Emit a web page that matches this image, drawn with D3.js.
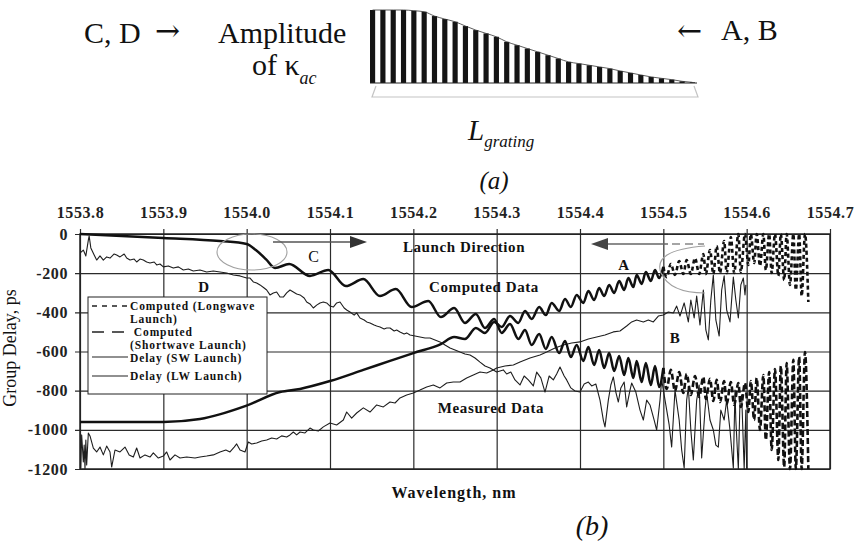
<!DOCTYPE html>
<html><head><meta charset="utf-8">
<script src="https://cdn.jsdelivr.net/npm/d3@7"></script>
<style>
body{margin:0;background:#fff}
svg{display:block}
text{font-family:"Liberation Serif","Times New Roman",serif;fill:#111}
</style>
</head><body>
<svg id="chart" width="858" height="545"></svg>
<script>
// ---------- data ----------
const xTicks = [1553.8,1553.9,1554.0,1554.1,1554.2,1554.3,1554.4,1554.5,1554.6,1554.7];
const yTicks = [0,-200,-400,-600,-800,-1000,-1200];

// relative amplitude of kappa_ac along the grating (panel a)
const kappaAmplitude = [1,1,1,1,0.99,0.976,0.917,0.876,0.839,0.78,0.725,0.679,0.633,0.564,0.518,0.472,
  0.427,0.381,0.335,0.289,0.266,0.243,0.22,0.197,0.165,0.138,0.11,0.083,0.064,0.046,0.023,0.009];

// [wavelength nm, group delay ps]
const computedSW = [[1553.800,0],[1553.900,-20],[1553.968,-36],[1554.000,-51],[1554.011,-82],[1554.023,-128],[1554.034,-174],[1554.051,-153],[1554.076,-214],[1554.098,-184],[1554.119,-266],[1554.140,-230],[1554.160,-317],[1554.179,-281],[1554.198,-373],[1554.218,-342],[1554.233,-424],[1554.249,-378],[1554.262,-454],[1554.275,-408],[1554.286,-480],[1554.297,-434],[1554.306,-505],[1554.316,-460],[1554.326,-536],[1554.334,-490],[1554.342,-567],[1554.351,-511],[1554.359,-587],[1554.366,-526],[1554.375,-608],[1554.382,-546],[1554.389,-628],[1554.396,-567],[1554.404,-648],[1554.410,-577],[1554.417,-669],[1554.423,-592],[1554.429,-684],[1554.435,-608],[1554.441,-700],[1554.447,-623],[1554.453,-720],[1554.458,-633],[1554.464,-735],[1554.468,-648],[1554.474,-756],[1554.479,-659],[1554.485,-771],[1554.490,-674],[1554.495,-781],[1554.500,-684],[1554.504,-791],[1554.509,-694],[1554.514,-802],[1554.519,-705],[1554.524,-812],[1554.528,-715],[1554.533,-822],[1554.538,-725],[1554.543,-832],[1554.548,-730],[1554.551,-842],[1554.556,-740],[1554.560,-853],[1554.564,-745],[1554.568,-858],[1554.573,-751],[1554.576,-868],[1554.581,-756],[1554.585,-873],[1554.590,-761],[1554.593,-883],[1554.598,-761],[1554.602,-909],[1554.605,-751],[1554.609,-950],[1554.612,-735],[1554.616,-1001],[1554.620,-720],[1554.623,-1052],[1554.627,-705],[1554.630,-1103],[1554.634,-689],[1554.638,-1154],[1554.641,-674],[1554.645,-1190],[1554.648,-659],[1554.652,-1200],[1554.656,-643],[1554.659,-1200],[1554.663,-628],[1554.666,-1200],[1554.670,-603],[1554.674,-1200]];

const computedLW = [[1553.800,-960],[1553.900,-960],[1553.944,-945],[1553.999,-878],[1554.040,-807],[1554.064,-791],[1554.100,-751],[1554.140,-694],[1554.172,-648],[1554.200,-608],[1554.233,-562],[1554.249,-526],[1554.262,-536],[1554.275,-480],[1554.286,-505],[1554.297,-449],[1554.306,-475],[1554.316,-419],[1554.326,-454],[1554.334,-393],[1554.342,-434],[1554.351,-373],[1554.359,-414],[1554.366,-352],[1554.375,-393],[1554.382,-332],[1554.389,-373],[1554.396,-311],[1554.404,-352],[1554.410,-291],[1554.417,-337],[1554.423,-276],[1554.429,-317],[1554.435,-260],[1554.441,-301],[1554.447,-240],[1554.453,-286],[1554.458,-225],[1554.464,-271],[1554.468,-209],[1554.474,-255],[1554.479,-194],[1554.485,-240],[1554.490,-184],[1554.495,-225],[1554.500,-168],[1554.504,-220],[1554.509,-153],[1554.514,-209],[1554.519,-138],[1554.524,-204],[1554.528,-133],[1554.533,-204],[1554.538,-123],[1554.543,-204],[1554.548,-102],[1554.551,-204],[1554.556,-82],[1554.560,-204],[1554.564,-61],[1554.568,-199],[1554.573,-36],[1554.576,-199],[1554.581,-15],[1554.585,-199],[1554.590,0],[1554.593,-194],[1554.598,0],[1554.602,-158],[1554.605,0],[1554.609,-148],[1554.612,0],[1554.616,-163],[1554.620,0],[1554.623,-184],[1554.627,0],[1554.630,-199],[1554.634,0],[1554.638,-214],[1554.641,0],[1554.645,-235],[1554.648,0],[1554.652,-260],[1554.656,0],[1554.659,-286],[1554.663,0],[1554.666,-317],[1554.670,0],[1554.674,-347]];

const measuredSW = [[1553.800,-97],[1553.804,-82],[1553.807,-112],[1553.810,-31],[1553.811,-10],[1553.813,-71],[1553.817,-107],[1553.820,-133],[1553.824,-112],[1553.828,-133],[1553.832,-117],[1553.836,-123],[1553.841,-102],[1553.844,-107],[1553.848,-117],[1553.853,-102],[1553.856,-123],[1553.860,-133],[1553.865,-128],[1553.868,-143],[1553.872,-128],[1553.876,-133],[1553.880,-143],[1553.884,-148],[1553.889,-143],[1553.892,-158],[1553.896,-153],[1553.900,-168],[1553.906,-163],[1553.912,-174],[1553.918,-168],[1553.924,-184],[1553.930,-179],[1553.936,-189],[1553.944,-184],[1553.952,-194],[1553.960,-189],[1553.968,-194],[1553.976,-199],[1553.984,-209],[1553.992,-214],[1554.000,-225],[1554.004,-225],[1554.008,-245],[1554.012,-250],[1554.016,-260],[1554.021,-276],[1554.024,-286],[1554.028,-311],[1554.032,-301],[1554.036,-296],[1554.040,-322],[1554.044,-322],[1554.048,-301],[1554.052,-286],[1554.056,-296],[1554.060,-306],[1554.064,-311],[1554.069,-327],[1554.072,-347],[1554.076,-357],[1554.080,-378],[1554.084,-363],[1554.088,-352],[1554.092,-347],[1554.096,-352],[1554.100,-368],[1554.104,-373],[1554.108,-352],[1554.112,-347],[1554.117,-378],[1554.120,-388],[1554.124,-398],[1554.129,-414],[1554.132,-403],[1554.136,-429],[1554.141,-439],[1554.144,-449],[1554.148,-454],[1554.153,-465],[1554.156,-470],[1554.160,-475],[1554.165,-485],[1554.168,-480],[1554.172,-480],[1554.177,-495],[1554.180,-490],[1554.184,-500],[1554.189,-511],[1554.192,-505],[1554.196,-516],[1554.202,-521],[1554.208,-526],[1554.214,-531],[1554.220,-531],[1554.226,-541],[1554.232,-551],[1554.238,-567],[1554.244,-582],[1554.250,-592],[1554.256,-603],[1554.262,-613],[1554.268,-618],[1554.274,-633],[1554.280,-654],[1554.286,-674],[1554.292,-684],[1554.300,-705],[1554.308,-694],[1554.312,-715],[1554.317,-705],[1554.322,-745],[1554.328,-771],[1554.333,-725],[1554.338,-745],[1554.344,-776],[1554.348,-705],[1554.353,-735],[1554.358,-807],[1554.363,-725],[1554.368,-745],[1554.372,-715],[1554.376,-679],[1554.381,-725],[1554.384,-745],[1554.389,-786],[1554.394,-802],[1554.400,-807],[1554.405,-766],[1554.410,-756],[1554.414,-776],[1554.419,-766],[1554.424,-848],[1554.428,-950],[1554.430,-985],[1554.434,-848],[1554.437,-771],[1554.440,-730],[1554.443,-807],[1554.446,-858],[1554.449,-786],[1554.453,-756],[1554.456,-883],[1554.460,-797],[1554.462,-761],[1554.467,-807],[1554.472,-899],[1554.476,-950],[1554.480,-848],[1554.484,-873],[1554.489,-950],[1554.492,-1001],[1554.496,-848],[1554.498,-745],[1554.503,-873],[1554.507,-975],[1554.510,-1088],[1554.514,-797],[1554.519,-950],[1554.522,-1103],[1554.525,-1195],[1554.528,-848],[1554.530,-781],[1554.533,-1001],[1554.536,-1154],[1554.540,-848],[1554.543,-771],[1554.546,-1144],[1554.550,-899],[1554.552,-812],[1554.556,-950],[1554.560,-1001],[1554.563,-1078],[1554.566,-1088],[1554.569,-899],[1554.573,-950],[1554.576,-848],[1554.580,-1001],[1554.584,-1195],[1554.586,-797],[1554.587,-950],[1554.590,-1200],[1554.592,-848],[1554.594,-822],[1554.597,-1200],[1554.599,-899],[1554.600,-1200]];

const measuredLW = [[1553.800,-1052],[1553.801,-1195],[1553.802,-1026],[1553.804,-1164],[1553.805,-1078],[1553.806,-1200],[1553.807,-1052],[1553.808,-1179],[1553.810,-1016],[1553.812,-1031],[1553.816,-1093],[1553.820,-1113],[1553.824,-1088],[1553.828,-1128],[1553.832,-1083],[1553.836,-1113],[1553.838,-1190],[1553.842,-1103],[1553.848,-1113],[1553.854,-1088],[1553.859,-1128],[1553.864,-1139],[1553.868,-1093],[1553.872,-1144],[1553.878,-1128],[1553.884,-1139],[1553.888,-1118],[1553.894,-1144],[1553.900,-1134],[1553.904,-1113],[1553.908,-1154],[1553.914,-1128],[1553.920,-1144],[1553.928,-1139],[1553.938,-1144],[1553.944,-1139],[1553.952,-1134],[1553.960,-1128],[1553.968,-1113],[1553.975,-1103],[1553.980,-1113],[1553.985,-1088],[1553.988,-1072],[1553.992,-1103],[1553.998,-1113],[1554.002,-1062],[1554.006,-1072],[1554.012,-1067],[1554.018,-1057],[1554.024,-1052],[1554.030,-1042],[1554.036,-1047],[1554.042,-1031],[1554.048,-1037],[1554.052,-1026],[1554.056,-1011],[1554.060,-1026],[1554.064,-1011],[1554.070,-1016],[1554.076,-991],[1554.080,-1001],[1554.086,-1006],[1554.092,-985],[1554.100,-965],[1554.108,-975],[1554.116,-950],[1554.120,-909],[1554.126,-940],[1554.132,-914],[1554.140,-888],[1554.148,-909],[1554.156,-873],[1554.164,-883],[1554.172,-858],[1554.178,-863],[1554.184,-837],[1554.192,-822],[1554.200,-812],[1554.208,-797],[1554.216,-781],[1554.224,-771],[1554.232,-786],[1554.240,-761],[1554.248,-756],[1554.256,-756],[1554.264,-735],[1554.272,-720],[1554.280,-705],[1554.288,-710],[1554.296,-694],[1554.300,-684],[1554.310,-674],[1554.320,-669],[1554.328,-654],[1554.340,-633],[1554.352,-618],[1554.360,-603],[1554.370,-582],[1554.380,-567],[1554.390,-557],[1554.400,-551],[1554.410,-536],[1554.420,-526],[1554.430,-516],[1554.440,-500],[1554.448,-495],[1554.456,-470],[1554.462,-449],[1554.468,-439],[1554.476,-449],[1554.482,-439],[1554.488,-449],[1554.494,-419],[1554.500,-414],[1554.506,-398],[1554.512,-403],[1554.516,-368],[1554.520,-419],[1554.525,-352],[1554.530,-449],[1554.533,-337],[1554.537,-429],[1554.540,-317],[1554.544,-465],[1554.548,-286],[1554.551,-490],[1554.554,-541],[1554.557,-337],[1554.560,-209],[1554.563,-439],[1554.567,-521],[1554.570,-286],[1554.573,-214],[1554.576,-388],[1554.580,-449],[1554.584,-220],[1554.587,-337],[1554.590,-429],[1554.593,-260],[1554.596,-225],[1554.598,-311],[1554.599,-260]];

const legendLabels = [["Computed (Longwave","Launch)"],[" Computed","(Shortwave Launch)"],["Delay (SW Launch)"],["Delay (LW Launch)"]];

// ---------- drawing ----------
const svg = d3.select("#chart");
svg.append("rect").attr("width",858).attr("height",545).attr("fill","#fff");

// ===== panel (a) =====
const idx = d3.range(kappaAmplitude.length);
const xb = d3.scaleBand().domain(idx).range([370,695]).paddingInner(0.5).paddingOuter(0);
const yb = d3.scaleLinear().domain([0,1]).range([83,10]);
svg.append("g").selectAll("rect").data(kappaAmplitude).join("rect")
  .attr("x",(d,i)=>xb(i)).attr("width",xb.bandwidth())
  .attr("y",d=>yb(d)).attr("height",d=>yb(0)-yb(d)).attr("fill","#141414");
svg.append("path")
  .datum(kappaAmplitude)
  .attr("d",d3.line().x((d,i)=>xb(i)+xb.bandwidth()/2).y(d=>yb(d)).curve(d3.curveMonotoneX))
  .attr("fill","none").attr("stroke","#333").attr("stroke-width",0.8);
svg.append("line").attr("x1",370).attr("x2",697).attr("y1",yb(0)).attr("y2",yb(0)).attr("stroke","#222").attr("stroke-width",1);
// L_grating bracket
svg.append("path").attr("d","M376,86 L372,97 L698,97 L694,86").attr("fill","none").attr("stroke","#c4c4c4").attr("stroke-width",1.2);

svg.append("text").attr("x",84).attr("y",43).attr("font-size",30).text("C, D");
svg.append("text").attr("x",155).attr("y",41).attr("font-size",30).style("font-family","'DejaVu Serif', serif").style("font-weight","200").text("→");
svg.append("text").attr("x",218).attr("y",43).attr("font-size",30).text("Amplitude");
const ok = svg.append("text").attr("x",252).attr("y",75).attr("font-size",30);
ok.append("tspan").text("of κ");
ok.append("tspan").attr("font-size",18).attr("font-style","italic").attr("dy",9).text("ac");
svg.append("text").attr("x",677).attr("y",41).attr("font-size",30).style("font-family","'DejaVu Serif', serif").text("←");
svg.append("text").attr("x",721).attr("y",40).attr("font-size",30).text("A, B");
const lg = svg.append("text").attr("x",468).attr("y",140).attr("font-size",29).attr("font-style","italic");
lg.append("tspan").text("L");
lg.append("tspan").attr("font-size",17).attr("dy",7).text("grating");
svg.append("text").attr("x",494).attr("y",189).attr("font-size",25).attr("font-style","italic").attr("text-anchor","middle").text("(a)");

// ===== panel (b) =====
const x = d3.scaleLinear().domain([1553.8,1554.7]).range([80,830]);
const y = d3.scaleLinear().domain([0,-1200]).range([234,469]);

svg.append("g").attr("transform","translate(0,469)")
  .call(d3.axisBottom(x).tickValues(xTicks).tickSize(-240).tickFormat(""))
  .call(g=>g.select(".domain").remove())
  .call(g=>g.selectAll("line").attr("stroke","#2b2b2b").attr("stroke-width",1.2));
svg.append("g").attr("transform","translate(830,0)")
  .call(d3.axisRight(y).tickValues(yTicks).tickSize(-755).tickFormat(""))
  .call(g=>g.select(".domain").remove())
  .call(g=>g.selectAll("line").attr("stroke","#2b2b2b").attr("stroke-width",1.2));
svg.append("rect").attr("x",80).attr("y",234).attr("width",750).attr("height",235)
  .attr("fill","none").attr("stroke","#222").attr("stroke-width",1.5);

const topAxis = svg.append("g").attr("transform","translate(0,234)")
  .call(d3.axisTop(x).tickValues(xTicks).tickSize(0).tickPadding(16).tickFormat(d3.format(".1f")));
topAxis.select(".domain").remove();
topAxis.selectAll("text").attr("font-size",16).attr("font-weight","bold").style("fill","#222").attr("letter-spacing",0.6);

const leftAxis = svg.append("g").attr("transform","translate(80,0)")
  .call(d3.axisLeft(y).tickValues(yTicks).tickSize(0).tickPadding(12).tickFormat(d=>String(d)));
leftAxis.select(".domain").remove();
leftAxis.selectAll("text").attr("font-size",16).attr("font-weight","bold").style("fill","#222").attr("letter-spacing",0.6);

svg.append("text").attr("transform","translate(16,348) rotate(-90)").attr("text-anchor","middle")
  .attr("font-size",18).text("Group Delay, ps");
svg.append("text").attr("x",454).attr("y",498).attr("text-anchor","middle").attr("font-size",16)
  .attr("font-weight","bold").attr("letter-spacing",1).text("Wavelength, nm");
svg.append("text").attr("x",592).attr("y",535).attr("text-anchor","middle").attr("font-size",28)
  .attr("font-style","italic").text("(b)");

svg.append("clipPath").attr("id","plotclip").append("rect").attr("x",80).attr("y",231).attr("width",750).attr("height",240);
const plot = svg.append("g").attr("clip-path","url(#plotclip)");

const lineLin = d3.line().x(d=>x(d[0])).y(d=>y(d[1]));
const lineSmooth = d3.line().x(d=>x(d[0])).y(d=>y(d[1])).curve(d3.curveMonotoneX);

plot.append("path").datum(measuredSW).attr("d",lineLin).attr("fill","none").attr("stroke","#1e1e1e").attr("stroke-width",1.1).attr("stroke-linejoin","round");
plot.append("path").datum(measuredLW).attr("d",lineLin).attr("fill","none").attr("stroke","#1e1e1e").attr("stroke-width",1.1).attr("stroke-linejoin","round");

function splitAt(arr, wl){
  const i = arr.findIndex(d=>d[0]>=wl);
  return [arr.slice(0,i+1), arr.slice(i)];
}
const [cSolid,cDash] = splitAt(computedSW,1554.50);
const [aSolid,aDash] = splitAt(computedLW,1554.50);
plot.append("path").datum(cSolid).attr("d",lineSmooth).attr("fill","none").attr("stroke","#111").attr("stroke-width",2.5);
plot.append("path").datum(cDash).attr("d",lineSmooth).attr("fill","none").attr("stroke","#111").attr("stroke-width",2.6).attr("stroke-dasharray","6,3");
plot.append("path").datum(aSolid).attr("d",lineSmooth).attr("fill","none").attr("stroke","#111").attr("stroke-width",2.5);
plot.append("path").datum(aDash).attr("d",lineSmooth).attr("fill","none").attr("stroke","#111").attr("stroke-width",2.6).attr("stroke-dasharray","4,3");

// annotations
const ann = svg.append("g").attr("fill","none").attr("stroke","#a0a0a0").attr("stroke-width",1.1);
ann.append("ellipse").attr("cx",252).attr("cy",252).attr("rx",35).attr("ry",18);
ann.append("path").attr("d","M705,246 Q652,250 661,273 Q670,293 705,293");
svg.append("line").attr("x1",273).attr("x2",352).attr("y1",242).attr("y2",242).attr("stroke","#555").attr("stroke-width",1.5);
svg.append("path").attr("d","M350,236 L367,242 L350,248 Z").attr("fill","#333");
svg.append("line").attr("x1",606).attr("x2",668).attr("y1",244).attr("y2",244).attr("stroke","#666").attr("stroke-width",1.5);
svg.append("line").attr("x1",672).attr("x2",704).attr("y1",244).attr("y2",244).attr("stroke","#888").attr("stroke-width",1.3).attr("stroke-dasharray","8,5");
svg.append("path").attr("d","M608,238 L591,244 L608,250 Z").attr("fill","#444");

const lab = (t,xx,yy,opt={})=>svg.append("text").attr("x",xx).attr("y",yy).attr("font-size",opt.size||15)
  .attr("font-weight",opt.weight||"bold").attr("text-anchor",opt.anchor||"middle").attr("letter-spacing",opt.ls||0.6).text(t);
lab("Launch Direction",464,252);
lab("Computed Data",484,292);
lab("Measured Data",491,413);
lab("C",314,262,{weight:"normal",size:16,ls:0});
lab("D",204,292,{ls:0});
lab("A",624,270,{ls:0});
lab("B",675,343,{ls:0});

// legend
const leg = svg.append("g");
leg.append("rect").attr("x",88).attr("y",297).attr("width",179).attr("height",97).attr("fill","#fff").attr("stroke","#222").attr("stroke-width",1);
const legLines = [{y:306,dash:"5,5",w:1.4},{y:332,dash:"12,8",w:1.6},{y:357,dash:null,w:1.1},{y:376,dash:null,w:1.1}];
leg.selectAll("line").data(legLines).join("line")
  .attr("x1",92).attr("x2",128).attr("y1",d=>d.y).attr("y2",d=>d.y)
  .attr("stroke","#222").attr("stroke-width",d=>d.w).attr("stroke-dasharray",d=>d.dash);
const legTextY = [[310,323],[336,349],[362],[380]];
legendLabels.forEach((lines,i)=>{
  lines.forEach((t,j)=>{
    leg.append("text").attr("x",130).attr("y",legTextY[i][j]).attr("font-size",11.5).attr("font-weight","bold")
      .attr("letter-spacing",0.9).style("white-space","pre").text(t);
  });
});
</script>
</body></html>
